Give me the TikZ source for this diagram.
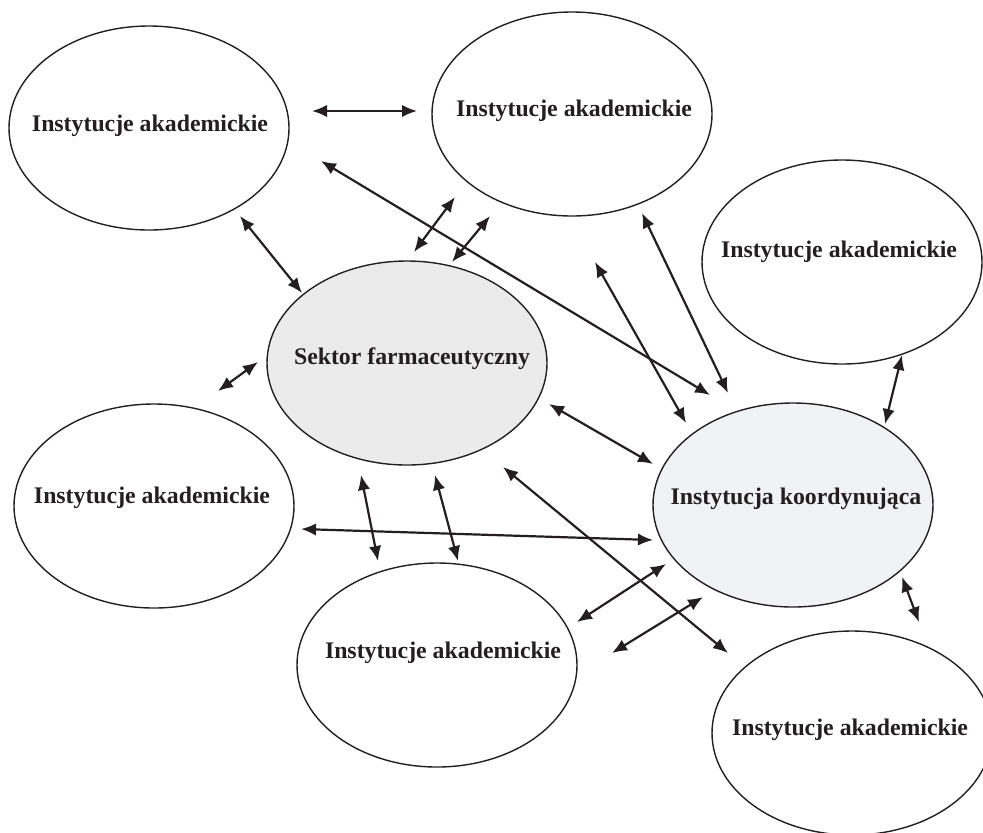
\documentclass[tikz,border=0pt]{standalone}
\usepackage{fontspec}
\setmainfont{Liberation Serif}
\usetikzlibrary{arrows.meta,shapes.geometric}
\definecolor{Ink}{HTML}{231F20}
\definecolor{SoftGray}{HTML}{EBEBEB}
\definecolor{PaleGray}{HTML}{F1F2F4}
\tikzset{
 inst/.style={ellipse, draw=Ink, line width=0.7pt, fill=white, minimum width=140pt, minimum height=102pt, inner sep=0pt},
 hub/.style={inst, fill=SoftGray},
 palehub/.style={inst, fill=PaleGray},
 lbl/.style={font=\bfseries\fontsize{11.9}{14}\selectfont, text=Ink, inner sep=0pt},
 biarrow/.style={{Latex[length=7.5pt,width=6.2pt]}-{Latex[length=7.5pt,width=6.2pt]}, line width=1.1pt, draw=Ink}
}
\begin{document}
\begin{tikzpicture}[x=0.5pt,y=-0.5pt]
\useasboundingbox (0,0) rectangle (983,832);

% ellipses
\node[inst] (topleft) at (149,128) {};
\node[inst] (topmid) at (572,114) {};
\node[inst] (righttop) at (842,262) {};
\node[hub] (pharma) at (407,363) {};
\node[inst] (leftmid) at (154,506) {};
\node[palehub] (coord) at (793,505) {};
\node[inst] (botmid) at (437,665) {};
\node[inst] (botright) at (852,733) {};

% labels
\node[lbl] (topleft-t) at (150,126) {Instytucje akademickie};
\node[lbl] (topmid-t) at (574,111) {Instytucje akademickie};
\node[lbl] (righttop-t) at (839,252) {Instytucje akademickie};
\node[lbl] (pharma-t) at (412,359) {Sektor farmaceutyczny};
\node[lbl] (leftmid-t) at (152,498) {Instytucje akademickie};
\node[lbl] (coord-t) at (796,499) {Instytucja koordynująca};
\node[lbl] (botmid-t) at (443,653) {Instytucje akademickie};
\node[lbl] (botright-t) at (850,730) {Instytucje akademickie};

% two-way links
\foreach \n/\xa/\ya/\xb/\yb in {
  1/312/111/417/111, 2/321/161/710/395, 3/240/216/302/293,
  4/414/252/455/197, 5/452/262/490/216, 6/642/213/728/393,
  7/595/262/686/423, 8/902/355/885/424, 9/218/391/258/362,
  10/549/404/653/464, 11/301/529/653/540, 12/361/475/378/561,
  13/435/475/458/561, 14/503/467/728/653, 15/577/622/666/564,
  16/612/653/703/597, 17/902/577/919/622} {
  \coordinate (link\n-a) at (\xa,\ya);
  \coordinate (link\n-b) at (\xb,\yb);
  \draw[biarrow] (link\n-a) -- (link\n-b);
}
\end{tikzpicture}
\end{document}
